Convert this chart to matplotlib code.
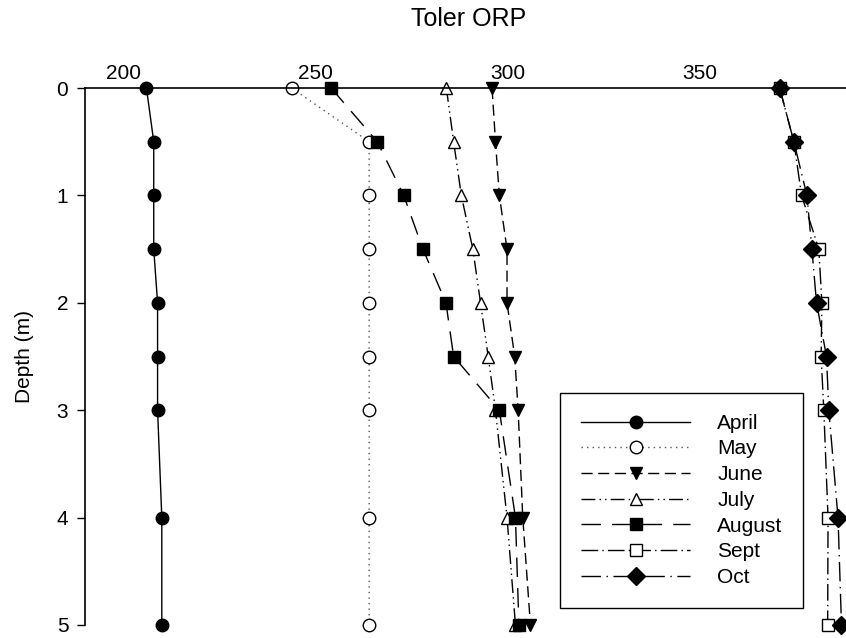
import matplotlib
matplotlib.use("Agg")
import matplotlib.pyplot as plt

plt.rcParams['font.family'] = ['Liberation Sans', 'DejaVu Sans']

depth = [0, 0.5, 1, 1.5, 2, 2.5, 3, 4, 5]
april = [206.0, 207.9, 207.9, 207.9, 208.9, 208.9, 208.9, 210.0, 210.0]
may = [243.8, 264.0, 264.0, 264.0, 264.0, 264.0, 264.0, 264.0, 264.0]
june = [296.0, 296.9, 297.9, 299.9, 299.9, 301.9, 302.8, 304.0, 306.0]
july = [284.1, 286.0, 288.0, 291.0, 293.0, 295.0, 296.9, 299.9, 302.1]
august = [254.1, 266.1, 273.0, 278.0, 284.0, 286.0, 297.9, 302.1, 303.0]
sept = [370.9, 374.6, 376.6, 381.1, 381.9, 381.7, 382.4, 383.5, 383.4]
octo = [370.9, 374.6, 378.0, 379.3, 380.5, 383.1, 383.7, 386.1, 387.0]

labels = ["April", "May", "June", "July", "August", "Sept", "Oct"]
xticks = [200, 250, 300, 350]
yticks = [0, 1, 2, 3, 4, 5]

W, H = 846, 638
fig = plt.figure(figsize=(W / 100, H / 100), dpi=100)
ax = fig.add_axes([85 / W, (H - 625) / H, 768 / W, (625 - 88) / H])

styles = [
    dict(ls='-', marker='o', mfc='black'),
    dict(ls=(0, (1, 3)), marker='o', mfc='white', color='#555555'),
    dict(ls=(0, (8, 4)), marker='v', mfc='black'),
    dict(ls=(0, (10, 3, 1, 3, 1, 3)), marker='^', mfc='white'),
    dict(ls=(0, (14, 8)), marker='s', mfc='black'),
    dict(ls=(0, (12, 3, 1, 3)), marker='s', mfc='white'),
    dict(ls=(0, (14, 4, 1, 4)), marker='D', mfc='black'),
]
series = [april, may, june, july, august, sept, octo]
sizes = [9, 9, 9, 9, 8.5, 8, 9.5]

for vals, lab, st, ms in zip(series, labels, styles, sizes):
    color = st.pop('color', 'black')
    ax.plot(vals, depth, color=color, lw=1.0, ms=ms, mec='black', mew=1.0,
            label=lab, clip_on=False, **st)

ax.set_xlim(190, 390)
ax.set_ylim(5, 0)
ax.xaxis.tick_top()
ax.set_xticks(xticks)
ax.set_yticks(yticks)
ax.tick_params(axis='x', length=0, pad=3.5, labelsize=15)
ax.tick_params(axis='y', direction='out', length=6, width=1, pad=6, labelsize=15)
for s in ['right', 'bottom']:
    ax.spines[s].set_visible(False)
for s in ['left', 'top']:
    ax.spines[s].set_linewidth(1.2)

ax.set_ylabel("Depth (m)", fontsize=15, labelpad=16.5)
fig.text(469 / W, 1 - 19 / H, "Toler ORP", ha='center', va='center', fontsize=18)

leg = ax.legend(loc='upper left', bbox_to_anchor=(560 / W, 1 - 393 / H),
                bbox_transform=fig.transFigure, borderaxespad=0,
                fontsize=15, handlelength=5.25, handletextpad=1.3,
                labelspacing=0.32, borderpad=1.0, fancybox=False,
                framealpha=1, edgecolor='black')
leg.get_frame().set_linewidth(1.0)

fig.savefig("out.png", dpi=100)
